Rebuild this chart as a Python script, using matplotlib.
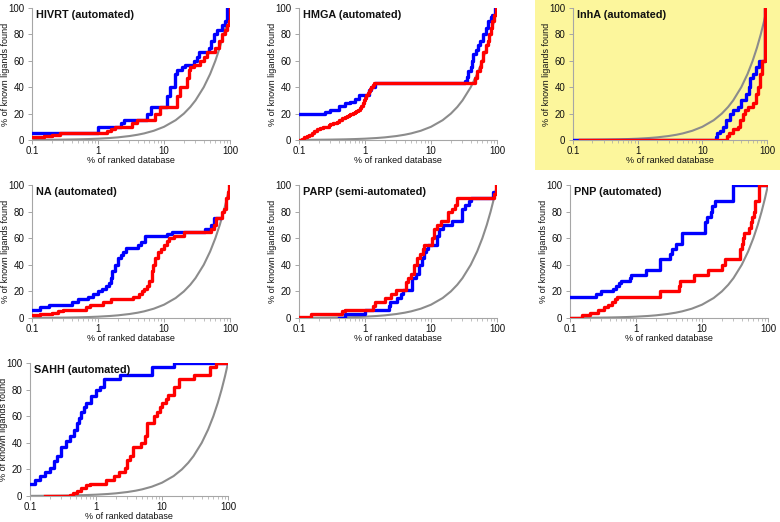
import matplotlib
matplotlib.use("Agg")
import matplotlib.pyplot as plt
from matplotlib.ticker import FixedLocator, NullFormatter, LogLocator

plt.rcParams["font.family"] = ["Liberation Sans", "DejaVu Sans"]

BLUE = "#0000ff"
RED = "#ff0000"
GREY = "#8c8c8c"
SPINE = "#a6a6a6"
YELLOW = "#fcf69c"

# random-selection reference (% found == % screened)
RANDOM_PCT = [0.1, 0.15, 0.2, 0.3, 0.5, 0.7, 1, 1.5, 2, 3, 4, 5, 7, 10, 15, 20, 25, 30,
              40, 50, 60, 70, 80, 90, 100]

# --- HIVRT ---
HIVRT_BLUE_X = [0.1, 1.0, 2.2, 2.45, 5.5, 6.3, 11.1, 12.5, 14.8, 15.7, 18.7, 21, 28, 31.6,
                33.5, 47.5, 51.6, 56.6, 63.5, 75.6, 85, 90, 100]
HIVRT_BLUE_Y = [5, 10, 13, 15, 20, 25, 33, 40, 50, 53, 55, 57, 60, 63, 67, 70, 75, 80, 83,
                87, 90, 100, 100]
HIVRT_RED_X = [0.1, 0.15, 0.2, 0.27, 1.37, 1.6, 1.8, 3.3, 3.9, 7.4, 8.6, 15.7, 17.7, 22.3,
               23.6, 25, 28, 35.5, 40, 45, 60, 67, 75, 85, 90, 95, 99]
HIVRT_RED_Y = [2, 3, 4, 5, 7, 8, 10, 13, 15, 20, 25, 33, 40, 47, 53, 55, 57, 60, 63, 67, 70,
               75, 80, 83, 87, 90, 100]

# --- HMGA ---
HMGA_BLUE_X = [0.1, 0.2, 0.25, 0.3, 0.4, 0.5, 0.6, 0.7, 0.8, 1.05, 1.15, 1.25, 1.4, 32, 33,
               35, 36, 40, 42, 44, 48, 52, 56, 62, 68, 72, 80, 85, 92, 96]
HMGA_BLUE_Y = [20, 20, 21, 23, 26, 28, 29, 31, 34, 34, 38, 40, 43, 43, 45, 48, 52, 55, 60,
               65, 68, 72, 75, 80, 85, 90, 93, 95, 100, 100]
HMGA_RED_X = [0.1, 0.11, 0.12, 0.13, 0.14, 0.155, 0.17, 0.19, 0.21, 0.23, 0.25, 0.28, 0.3,
              0.33, 0.37, 0.41, 0.45, 0.49, 0.53, 0.57, 0.6, 0.65, 0.7, 0.74, 0.78, 0.83,
              0.88, 0.92, 0.95, 1.0, 1.05, 1.1, 1.15, 1.2, 1.25, 1.3, 1.35, 45, 46, 50, 56,
              58, 62, 68, 72, 75, 80, 85, 90, 95, 98]
HMGA_RED_Y = [0, 1, 2, 3, 4, 5.5, 7, 8, 9, 9.5, 10, 11, 12, 13, 14, 15.5, 17, 17.5, 18, 19,
              20, 20.5, 21, 22, 23, 24.5, 26, 28, 30, 32, 34, 35.5, 37, 38.5, 40, 41.5, 43,
              43, 47, 52, 55, 60, 67, 72, 75, 80, 85, 90, 95, 100, 100]

# --- InhA ---
INHA_BLUE_X = [0.1, 16, 17, 19, 21, 23, 27, 30, 35, 40, 48, 52, 55, 60, 68, 75, 85, 94, 96]
INHA_BLUE_Y = [0, 2, 5, 7, 10, 15, 20, 23, 25, 30, 35, 40, 47, 50, 55, 60, 60, 100, 100]
INHA_RED_X = [0.13, 24, 26, 30, 35, 38, 42, 45, 50, 60, 68, 72, 78, 85, 93, 97]
INHA_RED_Y = [0, 3, 5, 8, 10, 15, 20, 23, 25, 28, 35, 40, 50, 60, 100, 100]

# --- NA ---
NA_BLUE_X = [0.1, 0.13, 0.18, 0.3, 0.4, 0.5, 0.7, 0.85, 1.0, 1.15, 1.3, 1.45, 1.55, 1.65,
             1.8, 2.0, 2.2, 2.4, 2.7, 4.0, 4.5, 5.2, 11, 13, 42, 52, 58, 70]
NA_BLUE_Y = [6, 8, 10, 10, 12, 14, 16, 18, 20, 22, 24, 26, 30, 35, 40, 45, 47, 50, 53, 55,
             57, 62, 63, 65, 67, 70, 75, 75]
NA_RED_X = [0.1, 0.13, 0.2, 0.25, 0.3, 0.65, 0.75, 1.2, 1.6, 3.4, 4.2, 4.6, 5.0, 5.5, 6.0,
            6.5, 6.8, 7.2, 8.2, 9.0, 10, 11, 12, 14, 20, 52, 58, 62, 75, 82, 88, 92, 95, 98]
NA_RED_Y = [2, 3, 4, 5, 6, 8, 10, 12, 14, 16, 18, 20, 22, 24, 28, 35, 40, 45, 50, 52, 55,
            58, 60, 62, 65, 67, 70, 75, 80, 82, 90, 95, 100, 100]

# --- PARP ---
PARP_BLUE_X = [0.4, 0.5, 1.0, 2.3, 2.4, 3.1, 3.5, 3.8, 5.2, 6.0, 6.5, 7.2, 7.8, 8.3, 9.0,
               12.3, 13, 15, 21, 29, 30, 33, 38, 40, 88, 92]
PARP_BLUE_Y = [0, 3, 6, 9, 12, 15, 18, 21, 30, 33, 40, 45, 50, 52, 55, 62, 67, 70, 73, 78,
               82, 85, 88, 90, 95, 95]
PARP_RED_X = [0.1, 0.15, 0.45, 0.5, 1.3, 1.4, 2.0, 2.5, 3.0, 4.2, 4.5, 5.0, 5.5, 6.2, 6.8,
              7.5, 7.9, 10.5, 11, 12.5, 14, 18, 21, 23, 25, 90, 96, 98]
PARP_RED_Y = [1, 3, 5, 6, 9, 12, 15, 18, 21, 27, 30, 33, 40, 45, 48, 52, 55, 60, 67, 70,
              73, 80, 82, 85, 90, 93, 100, 100]

# --- PNP ---
PNP_BLUE_X = [0.1, 0.25, 0.3, 0.45, 0.5, 0.55, 0.6, 0.8, 0.85, 1.4, 2.3, 3.3, 3.5, 4.0, 5.0,
              11, 12, 13.5, 14, 16, 30, 100]
PNP_BLUE_Y = [16, 18, 20, 22, 24, 26, 28, 30, 32, 36, 44, 48, 52, 56, 64, 72, 76, 80, 84,
              88, 100, 100]
PNP_RED_X = [0.1, 0.15, 0.2, 0.27, 0.33, 0.38, 0.43, 0.48, 0.52, 2.3, 4.5, 4.7, 7.5, 12.5,
             20, 22, 37, 38, 40, 42, 44, 52, 55, 58, 61, 63, 64, 74, 100]
PNP_RED_Y = [0, 2, 4, 6, 8, 10, 12, 14, 16, 20, 24, 28, 32, 36, 40, 44, 48, 52, 56, 60, 64,
             68, 72, 76, 80, 84, 88, 100, 100]

# --- SAHH ---
SAHH_BLUE_X = [0.1, 0.12, 0.14, 0.17, 0.2, 0.23, 0.26, 0.3, 0.35, 0.4, 0.46, 0.52, 0.56,
               0.6, 0.65, 0.7, 0.85, 1.0, 1.15, 1.3, 2.3, 7, 15, 100]
SAHH_BLUE_Y = [9, 12, 15, 18, 21, 26, 30, 37, 41, 45, 50, 55, 59, 63, 67, 70, 75, 80, 82,
               88, 91, 97, 100, 100]
SAHH_RED_X = [0.17, 0.4, 0.45, 0.52, 0.6, 0.7, 0.8, 1.4, 1.9, 2.2, 2.75, 3.0, 3.3, 3.6, 4.8,
              5.5, 6.0, 7.5, 8.5, 9.2, 10, 11.5, 12.5, 15, 18, 31, 53, 65, 100]
SAHH_RED_Y = [0, 1, 2, 4, 6, 8, 9, 12, 15, 18, 21, 27, 30, 37, 40, 45, 55, 60, 63, 67, 70,
              73, 76, 82, 88, 91, 97, 100, 100]

PANELS = [
    ("HIVRT (automated)", HIVRT_BLUE_X, HIVRT_BLUE_Y, HIVRT_RED_X, HIVRT_RED_Y),
    ("HMGA (automated)", HMGA_BLUE_X, HMGA_BLUE_Y, HMGA_RED_X, HMGA_RED_Y),
    ("InhA (automated)", INHA_BLUE_X, INHA_BLUE_Y, INHA_RED_X, INHA_RED_Y),
    ("NA (automated)", NA_BLUE_X, NA_BLUE_Y, NA_RED_X, NA_RED_Y),
    ("PARP (semi-automated)", PARP_BLUE_X, PARP_BLUE_Y, PARP_RED_X, PARP_RED_Y),
    ("PNP (automated)", PNP_BLUE_X, PNP_BLUE_Y, PNP_RED_X, PNP_RED_Y),
    ("SAHH (automated)", SAHH_BLUE_X, SAHH_BLUE_Y, SAHH_RED_X, SAHH_RED_Y),
]

# axes boxes in pixels: (left, top, right, bottom) on a 780x522 canvas
BOXES = [
    (32, 8, 230, 140), (299, 8, 497, 140), (573, 8, 767, 140),
    (32, 185, 230, 318), (299, 185, 497, 318), (570, 185, 768, 318),
    (30, 363, 228, 496),
]
W, H = 780, 522

fig = plt.figure(figsize=(7.8, 5.22), dpi=100)
fig.patch.set_facecolor("white")

# yellow highlight behind the InhA panel
fig.patches.append(plt.Rectangle((535 / W, 1 - 170 / H), 1 - 535 / W, 170 / H,
                                 transform=fig.transFigure, facecolor=YELLOW,
                                 edgecolor="none", zorder=-5))

for (title, bx, by, rx, ry), (l, t, r, b) in zip(PANELS, BOXES):
    wpx, hpx = r - l, b - t
    ax = fig.add_axes([l / W, 1 - b / H, wpx / W, hpx / H])
    ax.patch.set_alpha(0)
    ax.set_xscale("log")
    ax.set_xlim(0.1, 100)
    ax.set_ylim(0, 100)

    ax.plot(RANDOM_PCT, RANDOM_PCT, color=GREY, lw=1.5, zorder=2)
    ax.plot(bx, by, color=BLUE, lw=2.4, drawstyle="steps-post", zorder=3)
    ax.plot(rx, ry, color=RED, lw=2.4, drawstyle="steps-post", zorder=4)

    for s in ("top", "right"):
        ax.spines[s].set_visible(False)
    for s in ("left", "bottom"):
        ax.spines[s].set_color(SPINE)
        ax.spines[s].set_linewidth(0.8)

    ax.xaxis.set_major_locator(FixedLocator([0.1, 1, 10, 100]))
    ax.set_xticklabels(["0.1", "1", "10", "100"])
    ax.xaxis.set_minor_locator(LogLocator(base=10, subs=range(2, 10)))
    ax.xaxis.set_minor_formatter(NullFormatter())
    ax.set_yticks([0, 20, 40, 60, 80, 100])
    ax.tick_params(axis="both", which="major", labelsize=7, colors=SPINE,
                   labelcolor="#111111", length=3, width=0.7, pad=2.5)
    ax.tick_params(axis="x", which="major", pad=1.5)
    ax.tick_params(axis="x", which="minor", colors=SPINE, length=2, width=0.5)

    ax.set_xlabel("% of ranked database", fontsize=6.5, color="#111111")
    ax.set_ylabel("% of known ligands found", fontsize=6.5, color="#111111")
    ax.xaxis.set_label_coords(0.5, -16 / hpx)
    ax.yaxis.set_label_coords(-22 / wpx, 0.5)
    ax.text(4 / wpx, 0.985, title, transform=ax.transAxes, ha="left", va="top",
            fontsize=7.8, fontweight="bold", color="#111111", zorder=5)

fig.savefig("out.png", dpi=100, facecolor="white")
plt.close(fig)
